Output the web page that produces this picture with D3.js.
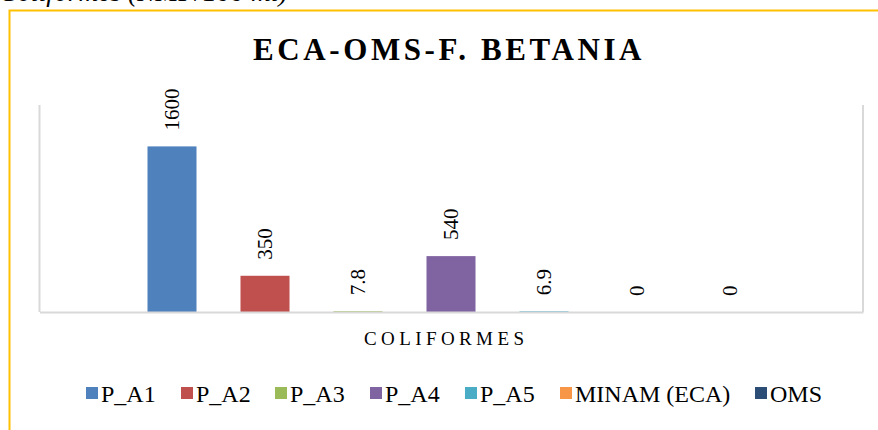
<!DOCTYPE html>
<html>
<head>
<meta charset="utf-8">
<script src="https://cdn.jsdelivr.net/npm/d3@7"></script>
<style>
  html, body { margin: 0; padding: 0; background: #fff; }
  svg { display: block; }
  text { font-family: "Liberation Serif", "Times New Roman", "DejaVu Serif", serif; }
</style>
</head>
<body>
<script>
const category = "COLIFORMES";
const seriesNames = ["P_A1", "P_A2", "P_A3", "P_A4", "P_A5", "MINAM (ECA)", "OMS"];
const seriesValues = [1600, 350, 7.8, 540, 6.9, 0, 0];
const valueLabels = ["1600", "350", "7.8", "540", "6.9", "0", "0"];
const seriesColors = ["#4F81BD", "#C0504D", "#9BBB59", "#8064A2", "#4BACC6", "#F79646", "#2C4D75"];
const title = "ECA-OMS-F. BETANIA";
const caption = "Coliformes (NMP/100 ml)";
const yDomain = [0, 2000];

const W = 878, H = 430;
const svg = d3.select("body").append("svg").attr("width", W).attr("height", H);

// caption cut at top (as in the reference)
svg.append("text")
  .attr("x", -1).attr("y", 1)
  .attr("font-size", 27.5).attr("font-style", "italic")
  .attr("fill", "#000")
  .text(caption);

// chart border (yellow)
svg.append("rect")
  .attr("x", 9.5).attr("y", 10.5)
  .attr("width", W + 20).attr("height", H + 20)
  .attr("fill", "none").attr("stroke", "#FFC000").attr("stroke-width", 2);

// title
svg.append("text")
  .attr("x", 253).attr("y", 60)
  .attr("font-size", 31).attr("font-weight", "bold")
  .attr("letter-spacing", 3.6)
  .attr("fill", "#000")
  .text(title);

const plot = { left: 39.5, right: 863, top: 105, bottom: 312 };

const x = d3.scaleBand()
  .domain(seriesNames)
  .range([125.5, 776.5])
  .paddingInner(0.473)
  .paddingOuter(0.2365);

const y = d3.scaleLinear().domain(yDomain).range([plot.bottom, plot.top]);

// plot frame lines
const frame = svg.append("g").attr("stroke", "#D9D9D9").attr("stroke-width", 2);
frame.append("line").attr("x1", plot.left).attr("x2", plot.left).attr("y1", plot.top).attr("y2", plot.bottom);
frame.append("line").attr("x1", plot.right).attr("x2", plot.right).attr("y1", plot.top).attr("y2", plot.bottom);

// bars
const data = seriesNames.map((s, i) => ({ s, v: seriesValues[i], label: valueLabels[i], c: seriesColors[i] }));
svg.append("g").selectAll("rect").data(data).join("rect")
  .attr("x", d => x(d.s))
  .attr("width", x.bandwidth())
  .attr("y", d => y(d.v))
  .attr("height", d => y(0) - y(d.v))
  .attr("fill", d => d.c);

// bottom axis line
const xAxis = d3.axisBottom(d3.scaleBand().domain([category]).range([plot.left, plot.right])).tickSize(0).tickFormat("");
const gx = svg.append("g").attr("transform", `translate(0,${plot.bottom})`).call(xAxis);
gx.select(".domain").attr("stroke", "#D9D9D9").attr("stroke-width", 2);

// data labels (rotated)
svg.append("g").selectAll("text").data(data).join("text")
  .attr("transform", d => `translate(${x(d.s) + x.bandwidth() / 2},${y(d.v) - 16}) rotate(-90)`)
  .attr("dy", "0.35em")
  .attr("font-size", 21)
  .attr("fill", "#000")
  .text(d => d.label);

// category label
svg.append("text")
  .attr("x", 364).attr("y", 345)
  .attr("font-size", 19).attr("letter-spacing", 4.4)
  .attr("fill", "#000")
  .text(category);

// legend
const legendX = [86, 181, 275, 370, 465, 560, 755];
const lg = svg.append("g").selectAll("g").data(data).join("g")
  .attr("transform", (d, i) => `translate(${legendX[i]},393)`);
lg.append("rect").attr("x", 0).attr("y", -6).attr("width", 12).attr("height", 12).attr("fill", d => d.c);
lg.append("text").attr("x", 15).attr("y", 8.5).attr("font-size", 24).attr("fill", "#000").text(d => d.s);
</script>
</body>
</html>
